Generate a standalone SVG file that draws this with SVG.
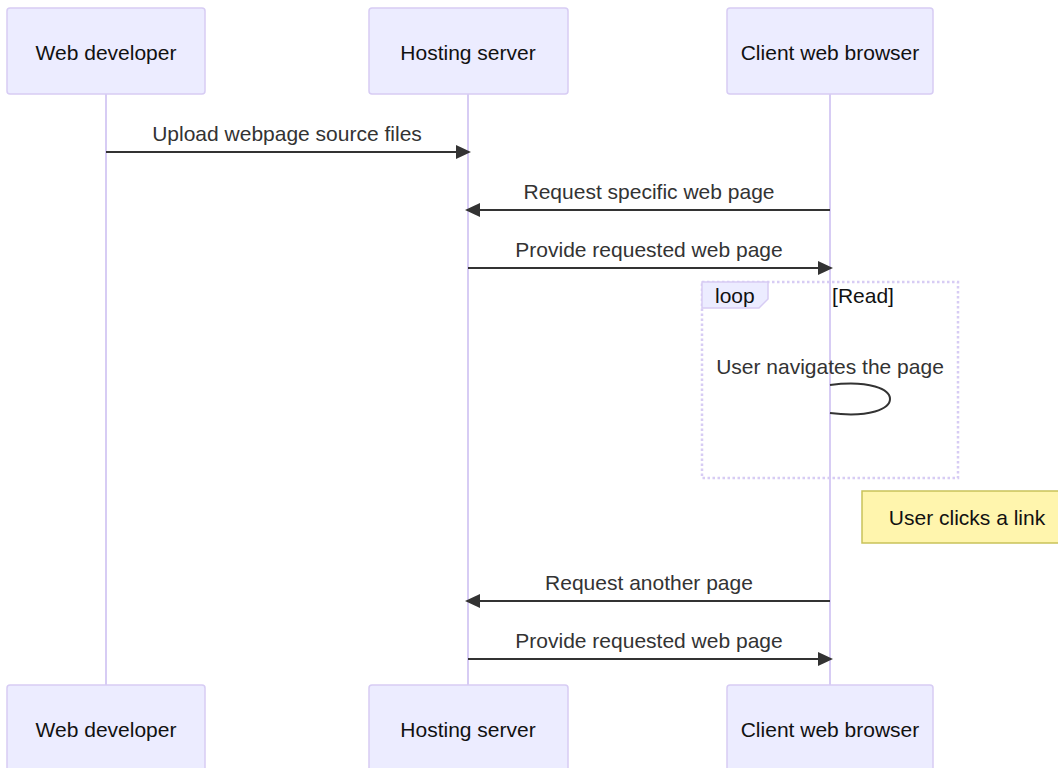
<svg xmlns="http://www.w3.org/2000/svg" width="1058" height="768" viewBox="0 0 1058 768">
  <style>
    text { font-family: "Liberation Sans", Arial, sans-serif; font-size: 21px; }
    .actor rect { fill: #ECECFF; stroke: #D7CCF4; stroke-width: 1.5; }
    .actor text { fill: #111; text-anchor: middle; }
    .lifeline { stroke: #D7CCF4; stroke-width: 2; }
    .msg { stroke: #333; stroke-width: 2; fill: none; }
    .msg-label { fill: #333; text-anchor: middle; }
    .loop-box { fill: none; stroke: #D7CCF4; stroke-width: 2.5; stroke-dasharray: 2.5 2.5; }
    .loop-tab { fill: #ECECFF; stroke: #D7CCF4; stroke-width: 1.5; }
    .loop-text { fill: #111; }
    .note rect { fill: #FFF5AD; stroke: #C9C25A; stroke-width: 1.5; }
    .note text { fill: #111; text-anchor: middle; }
  </style>
  <defs>
    <marker id="arrowhead" markerUnits="userSpaceOnUse" markerWidth="16" markerHeight="16" refX="12" refY="7" orient="auto">
      <path d="M0,0 L15,7 L0,14 z" fill="#333"/>
    </marker>
  </defs>

  <rect width="1058" height="768" fill="#fff"/>

  <!-- lifelines -->
  <g id="lifelines">
    <line class="lifeline" x1="106" y1="94" x2="106" y2="685"/>
    <line class="lifeline" x1="468" y1="94" x2="468" y2="685"/>
    <line class="lifeline" x1="830" y1="94" x2="830" y2="685"/>
  </g>

  <!-- participants, top row -->
  <g id="web-developer" class="actor">
    <rect x="7" y="8" width="198" height="86" rx="3"/>
    <text x="106" y="60">Web developer</text>
  </g>
  <g id="hosting-server" class="actor">
    <rect x="369" y="8" width="199" height="86" rx="3"/>
    <text x="468" y="60">Hosting server</text>
  </g>
  <g id="client-web-browser" class="actor">
    <rect x="727" y="8" width="206" height="86" rx="3"/>
    <text x="830" y="60">Client web browser</text>
  </g>

  <!-- participants, bottom row -->
  <g id="web-developer-bottom" class="actor">
    <rect x="7" y="685" width="198" height="86" rx="3"/>
    <text x="106" y="737">Web developer</text>
  </g>
  <g id="hosting-server-bottom" class="actor">
    <rect x="369" y="685" width="199" height="86" rx="3"/>
    <text x="468" y="737">Hosting server</text>
  </g>
  <g id="client-web-browser-bottom" class="actor">
    <rect x="727" y="685" width="206" height="86" rx="3"/>
    <text x="830" y="737">Client web browser</text>
  </g>

  <!-- loop fragment -->
  <g id="loop-read">
    <rect class="loop-box" x="702" y="282" width="256" height="196"/>
    <polygon class="loop-tab" points="702,282 768,282 768,299 759,308 702,308"/>
    <text class="loop-text" x="715" y="303">loop</text>
    <text class="loop-text" x="863" y="303" text-anchor="middle">[Read]</text>
  </g>

  <!-- note -->
  <g id="note-click" class="note">
    <rect x="862" y="491" width="210" height="52"/>
    <text x="967" y="525">User clicks a link</text>
  </g>

  <!-- messages -->
  <g id="messages">
    <line class="msg" x1="106" y1="152" x2="468" y2="152" marker-end="url(#arrowhead)"/>
    <text class="msg-label" x="287" y="141">Upload webpage source files</text>

    <line class="msg" x1="830" y1="210" x2="468" y2="210" marker-end="url(#arrowhead)"/>
    <text class="msg-label" x="649" y="199">Request specific web page</text>

    <line class="msg" x1="468" y1="268" x2="830" y2="268" marker-end="url(#arrowhead)"/>
    <text class="msg-label" x="649" y="257">Provide requested web page</text>

    <path class="msg" d="M830,385 C910,375 910,423 830,413"/>
    <text class="msg-label" x="830" y="374">User navigates the page</text>

    <line class="msg" x1="830" y1="601" x2="468" y2="601" marker-end="url(#arrowhead)"/>
    <text class="msg-label" x="649" y="590">Request another page</text>

    <line class="msg" x1="468" y1="659" x2="830" y2="659" marker-end="url(#arrowhead)"/>
    <text class="msg-label" x="649" y="648">Provide requested web page</text>
  </g>
</svg>
